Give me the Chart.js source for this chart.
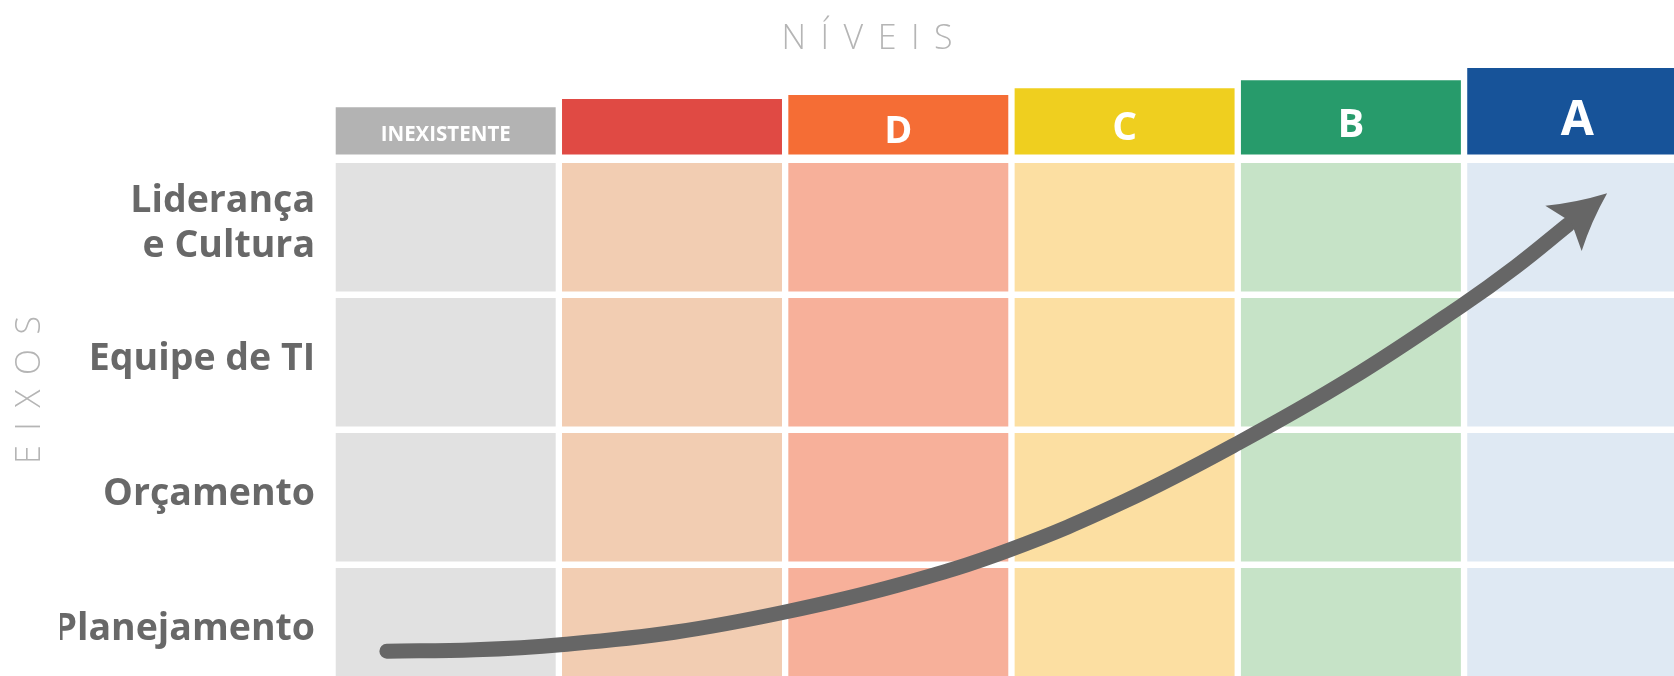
<!DOCTYPE html>
<html>
<head>
<meta charset="utf-8">
<script src="https://cdn.jsdelivr.net/npm/chart.js@4.4.1/dist/chart.umd.min.js"></script>
<style>
  html, body { margin: 0; padding: 0; background: #ffffff; overflow: hidden; }
  #wrap { position: relative; width: 1674px; height: 676px; }
</style>
</head>
<body>
<div id="wrap"><canvas id="c"></canvas></div>
<script>
// ---- data ----
const levels = ['INEXISTENTE', '', 'D', 'C', 'B', 'A'];          // columns (maturity levels)
const headerHeights = [0.35, 0.41, 0.44, 0.49, 0.55, 0.64];      // heights of the level tabs
const headerBase = 4.04;
const axesNames = ['Planejamento', 'Orçamento', 'Equipe de TI', ['Liderança', 'e Cultura']]; // rows, bottom to top
const arrowX = [-0.26, 0.13, 0.52, 1.01, 1.50, 2.00, 2.49, 3.00, 3.50, 4.00, 4.49, 4.73, 4.96]; // progression curve
const arrowY = [0.36, 0.37, 0.41, 0.50, 0.65, 0.85, 1.11, 1.47, 1.90, 2.38, 2.92, 3.21, 3.52];

// ---- styles ----
const headerColors = ['#b3b3b3', '#e04a44', '#f56d35', '#efcf1f', '#279b6b', '#175399'];
const cellColors   = ['#e1e1e1', '#f2cdb2', '#f7b09a', '#fcdfa2', '#c6e3c7', '#dfe9f3'];
const headerFontSizes = [20.5, 38, 38, 39, 40, 48];
const FONT = "'Open Sans', 'Noto Sans', sans-serif";
const SP = ' \u2006';   // wide letter spacing

const headerLabelPlugin = {
  id: 'headerLabels',
  afterDatasetsDraw(chart, args, opts) {
    const meta = chart.getDatasetMeta(opts.datasetIndex);
    const ctx = chart.ctx;
    ctx.save();
    ctx.fillStyle = '#ffffff';
    ctx.textAlign = 'center';
    ctx.textBaseline = 'middle';
    meta.data.forEach((bar, i) => {
      const text = levels[i];
      if (!text) return;
      const p = bar.getProps(['x', 'y', 'base'], true);
      const h = Math.abs(p.base - p.y);
      const size = headerFontSizes[i];
      ctx.font = `bold ${size}px ${FONT}`;
      ctx.fillText(text, p.x, (p.y + p.base) / 2 + 0.06 * h + 0.1 * size);
    });
    ctx.restore();
  }
};

const arrowHeadPlugin = {
  id: 'arrowHead',
  afterDatasetsDraw(chart, args, opts) {
    const meta = chart.getDatasetMeta(opts.datasetIndex);
    const pts = meta.data;
    const last = pts[pts.length - 1];
    const prev = pts[pts.length - 2];
    const dx = last.x - prev.x, dy = last.y - prev.y;
    const len = Math.hypot(dx, dy);
    const ux = dx / len, uy = dy / len, nx = -uy, ny = ux;
    const P = (u, v) => [last.x + ux * u + nx * v, last.y + uy * u + ny * v];
    const ctx = chart.ctx;
    ctx.save();
    ctx.fillStyle = opts.color;
    ctx.beginPath();
    let q = P(50, 0); ctx.moveTo(q[0], q[1]);
    let c = P(20, 12); q = P(-6, 29); ctx.quadraticCurveTo(c[0], c[1], q[0], q[1]);
    q = P(4, 0); ctx.lineTo(q[0], q[1]);
    q = P(-6, -29); ctx.lineTo(q[0], q[1]);
    c = P(20, -12); q = P(50, 0); ctx.quadraticCurveTo(c[0], c[1], q[0], q[1]);
    ctx.closePath();
    ctx.fill();
    ctx.restore();
  }
};

const datasets = [
  {
    type: 'line',
    label: 'Evolução',
    data: arrowX.map((x, i) => ({ x: x, y: arrowY[i] })),
    borderColor: '#666666',
    borderWidth: 15,
    borderCapStyle: 'round',
    borderJoinStyle: 'round',
    pointRadius: 0,
    tension: 0.4,
    fill: false,
    order: 0
  },
  {
    type: 'bar',
    label: 'Níveis',
    data: levels.map((_, i) => ({ x: i, y: [headerBase, headerBase + headerHeights[i]] })),
    backgroundColor: headerColors,
    clip: false,
    order: 1
  }
].concat(axesNames.map((name, r) => ({
  type: 'bar',
  label: Array.isArray(name) ? name.join(' ') : name,
  data: levels.map((_, i) => ({ x: i, y: [r + 0.024, r + 0.976] })),
  backgroundColor: cellColors,
  order: 1
})));

new Chart(document.getElementById('c'), {
  type: 'bar',
  data: { datasets: datasets },
  plugins: [headerLabelPlugin, arrowHeadPlugin],
  options: {
    responsive: true,
    maintainAspectRatio: false,
    animation: false,
    devicePixelRatio: 1,
    layout: { padding: { left: 60, right: 0, top: 0, bottom: 0 } },
    datasets: { bar: { grouped: false, categoryPercentage: 0.972, barPercentage: 1, borderWidth: 0 } },
    scales: {
      x: {
        type: 'linear',
        display: false,
        offset: false,
        min: -0.5,
        max: 5.4277,
        afterBuildTicks: s => { s.ticks = levels.map((_, i) => ({ value: i })); }
      },
      y: {
        type: 'linear',
        min: 0.176,
        max: 4.4133,
        beginAtZero: false,
        grid: { display: false, drawTicks: false },
        border: { display: false },
        afterBuildTicks: s => { s.ticks = axesNames.map((_, i) => ({ value: i + 0.5 })); },
        ticks: {
          autoSkip: false,
          callback: (v, i) => axesNames[i],
          color: '#686868',
          font: { family: FONT, size: 37.5, weight: 'bold', lineHeight: 1.2 },
          padding: 17.5,
          labelOffset: -3
        },
        title: {
          display: true,
          text: ['E', 'I', 'X', 'O', 'S'].join(SP),
          color: '#b5b5b5',
          font: { family: FONT, size: 34, weight: 300 },
          padding: { top: -50, bottom: 0 }
        },
        afterFit: s => { s.width = 272.55; s.paddingTop = 0; s.paddingBottom = 0; }
      }
    },
    plugins: {
      legend: { display: false },
      tooltip: { enabled: false },
      title: {
        display: true,
        text: ['N', 'Í', 'V', 'E', 'I', 'S'].join(SP),
        color: '#b5b5b5',
        font: { family: FONT, size: 34, weight: 300 },
        padding: { top: 18.5, bottom: 44.7 }
      },
      headerLabels: { datasetIndex: 1 },
      arrowHead: { datasetIndex: 0, color: '#666666' }
    }
  }
});
</script>
</body>
</html>
